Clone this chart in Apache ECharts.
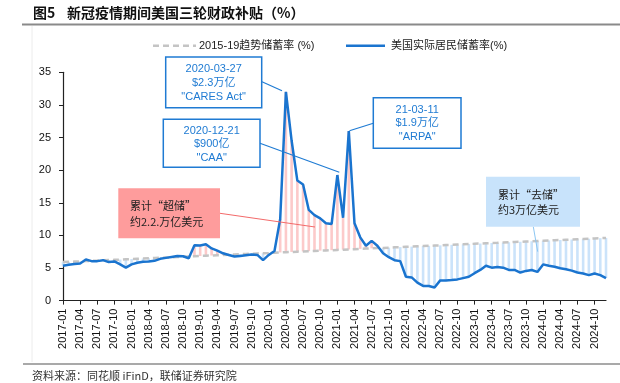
<!DOCTYPE html>
<html><head><meta charset="utf-8">
<script src="https://cdn.jsdelivr.net/npm/echarts@6/dist/echarts.min.js"></script>
<style>html,body{margin:0;padding:0;background:#fff}#c{width:620px;height:383px}</style>
</head><body><div id="c"></div>
<script>
// ---- data ----
const months = [];
for (let y = 2017; y <= 2024; y++) for (let m = 1; m <= 12; m++) months.push(y + '-' + String(m).padStart(2, '0'));

const actualRate = [
  5.35, 5.5, 5.6, 5.7, 6.3, 6.05, 6.05, 6.2, 5.9, 6.0, 5.55, 5.05,
  5.55, 5.8, 5.95, 6.0, 6.1, 6.4, 6.55, 6.7, 6.85, 6.8, 6.5, 8.5,
  8.45, 8.65, 8.0, 7.65, 7.25, 7.0, 6.75, 6.85, 6.95, 7.05, 7.0, 6.2,
  7.0, 7.6, 12.5, 32.0, 24.5, 18.4, 17.8, 13.9, 13.1, 12.6, 11.85, 11.75,
  19.25, 12.7, 26.0, 11.85, 9.7, 8.4, 9.15, 8.4, 7.25, 6.65, 6.2, 6.05,
  3.65, 3.55, 2.75, 2.25, 2.25, 2.0, 3.1, 3.1, 3.15, 3.25, 3.45, 3.65,
  4.2, 4.7, 5.35, 5.05, 5.15, 5.05, 4.7, 4.7, 4.3, 4.55, 4.7, 4.4,
  5.55, 5.35, 5.2, 4.95, 4.8, 4.6, 4.3, 4.15, 3.9, 4.15, 3.9, 3.45
];
const trendRate = [
  5.90, 5.94, 5.98, 6.02, 6.06, 6.10, 6.13, 6.17, 6.21, 6.25, 6.29, 6.33,
  6.37, 6.41, 6.45, 6.49, 6.52, 6.56, 6.60, 6.64, 6.68, 6.72, 6.76, 6.80,
  6.84, 6.88, 6.91, 6.95, 6.99, 7.03, 7.07, 7.11, 7.15, 7.19, 7.23, 7.27,
  7.30, 7.34, 7.38, 7.42, 7.46, 7.50, 7.54, 7.58, 7.62, 7.66, 7.69, 7.73,
  7.77, 7.81, 7.85, 7.89, 7.93, 7.97, 8.01, 8.05, 8.08, 8.12, 8.16, 8.20,
  8.24, 8.28, 8.32, 8.36, 8.40, 8.44, 8.47, 8.51, 8.55, 8.59, 8.63, 8.67,
  8.71, 8.75, 8.79, 8.83, 8.86, 8.90, 8.94, 8.98, 9.02, 9.06, 9.10, 9.14,
  9.18, 9.22, 9.25, 9.29, 9.33, 9.37, 9.41, 9.45, 9.49, 9.53, 9.57, 9.61
];
const trendName = '2015-19趋势储蓄率 (%)';
const actualName = '美国实际居民储蓄率(%)';

// ---- derived for stacked stripes ----
const baseVals = actualRate.map((a, i) => Math.min(a, trendRate[i]));
const aboveVals = actualRate.map((a, i) => a > trendRate[i] ? +(a - trendRate[i]).toFixed(3) : 0);
const belowVals = actualRate.map((a, i) => a < trendRate[i] ? +(trendRate[i] - a).toFixed(3) : 0);

const LAT = "'Liberation Sans', Arial, 'Noto Sans CJK SC', sans-serif";
const CJK = "'Noto Sans CJK SC', 'Liberation Sans', sans-serif";
const BLUE = '#1f7bd3';
const TREND_C = '#c4c4c4';
const LINE_C = '#1a74cf';

function txt(x, y, t, opt) {
  return Object.assign({ type: 'text', x: x, y: y, z: 100,
    style: Object.assign({ text: t, fontSize: 11, fontFamily: LAT, fill: BLUE, align: 'center', verticalAlign: 'middle' }, opt || {}) });
}
function line(x1, y1, x2, y2, stroke, w, dash) {
  const s = { stroke, lineWidth: w || 1 };
  if (dash) s.lineDash = dash;
  return { type: 'line', z: 90, shape: { x1, y1, x2, y2 }, style: s };
}
function box(x, y, w, h, fill, stroke, lw) {
  return { type: 'rect', z: 95, shape: { x, y, width: w, height: h }, style: { fill, stroke: stroke || null, lineWidth: lw || 0 } };
}

const chart = echarts.init(document.getElementById('c'), null, { renderer: 'canvas' });
chart.setOption({
  animation: false,
  backgroundColor: '#fff',
  grid: { left: 63, right: 14, top: 72.3, bottom: 82.4, containLabel: false },
  xAxis: {
    type: 'category', data: months, boundaryGap: false,
    axisLine: { lineStyle: { color: '#222', width: 1.2 } },
    axisTick: { interval: 2, length: 4, lineStyle: { color: '#222' } },
    axisLabel: { interval: 2, rotate: 90, margin: 8, fontSize: 11, fontFamily: LAT, color: '#111' },
    splitLine: { show: false }
  },
  yAxis: {
    type: 'value', min: 0, max: 35, interval: 5,
    axisLine: { show: true, lineStyle: { color: '#222', width: 1.2 } },
    axisTick: { show: true, length: 4, lineStyle: { color: '#222' } },
    axisLabel: { margin: 12, fontSize: 11, fontFamily: LAT, color: '#111' },
    splitLine: { show: false }
  },
  series: [
    { name: 'base', type: 'bar', stack: 'gap', data: baseVals, barWidth: 2.6, silent: true,
      itemStyle: { color: 'rgba(0,0,0,0)' }, z: 1 },
    { name: 'above', type: 'bar', stack: 'gap', data: aboveVals, barWidth: 2.6, silent: true,
      itemStyle: { color: '#fccaca' }, z: 1 },
    { name: 'below', type: 'bar', stack: 'gap', data: belowVals, barWidth: 2.6, silent: true,
      itemStyle: { color: '#cbe3fa' }, z: 1 },
    { name: trendName, type: 'line', data: trendRate, symbol: 'none', z: 3,
      lineStyle: { color: TREND_C, width: 2.5, type: [6, 4] } },
    { name: actualName, type: 'line', data: actualRate, symbol: 'none', z: 4,
      lineStyle: { color: LINE_C, width: 2.5 } }
  ],
  graphic: [
    // title and rules
    txt(33, 12.5, '图5', { fontSize: 14, fontWeight: 'bold', fontFamily: CJK, fill: '#111', align: 'left' }),
    txt(67, 12.5, '新冠疫情期间美国三轮财政补贴（%）', { fontSize: 14, fontWeight: 'bold', fontFamily: CJK, fill: '#111', align: 'left' }),
    line(22, 24.5, 620, 24.5, '#8a8a8a', 2),
    line(32, 26, 32, 362, '#ececec', 1),
    line(23, 364, 620, 364, '#555', 1.2),
    txt(32, 375.5, '资料来源：同花顺 iFinD，联储证券研究院', { fontSize: 11, fontFamily: CJK, fill: '#333', align: 'left' }),
    // legend
    line(153, 45.7, 196, 45.7, TREND_C, 2.5, [6, 4]),
    txt(199, 45.7, trendName, { fill: '#222', align: 'left' }),
    line(346, 45.7, 385, 45.7, LINE_C, 2.5),
    txt(391, 45.7, actualName, { fill: '#222', align: 'left' }),
    // CARES
    box(165.7, 57, 96, 50.7, '#fff', BLUE, 1.5),
    txt(213.7, 69, '2020-03-27'),
    txt(213.7, 82.7, '$2.3万亿'),
    txt(213.7, 96.7, '"CARES Act"'),
    line(262, 81.7, 282, 90.7, BLUE, 1.2),
    // CAA
    box(163.3, 119.3, 96.7, 48, '#fff', BLUE, 1.5),
    txt(211.7, 130.5, '2020-12-21'),
    txt(211.7, 144, '$900亿'),
    txt(211.7, 158.3, '"CAA"'),
    line(260, 143.3, 339.3, 172.3, BLUE, 1.2),
    // ARPA
    box(373.3, 97.7, 87.7, 50.6, '#fff', BLUE, 1.5),
    txt(417.2, 110, '21-03-11'),
    txt(417.2, 123, '$1.9万亿'),
    txt(417.2, 137.3, '"ARPA"'),
    line(373.3, 123.3, 349.5, 130.7, BLUE, 1.2),
    // pink box
    box(118.3, 188.3, 101.7, 50, '#fe9c9c'),
    txt(130, 205.7, '累计“超储”', { fontFamily: CJK, fill: '#222', align: 'left' }),
    txt(130, 222.3, '约2.2.万亿美元', { fontFamily: CJK, fill: '#222', align: 'left' }),
    line(220, 213.3, 315, 227, '#f36a6a', 1),
    // blue box
    box(486, 176.7, 94, 50, '#c8e3fb'),
    txt(498, 195, '累计“去储”', { fontFamily: CJK, fill: '#222', align: 'left' }),
    txt(498, 209.5, '约3万亿美元', { fontFamily: CJK, fill: '#222', align: 'left' }),
    line(533.3, 226.7, 537.7, 251.7, '#8cc6f2', 1)
  ]
});
</script>
</body></html>
